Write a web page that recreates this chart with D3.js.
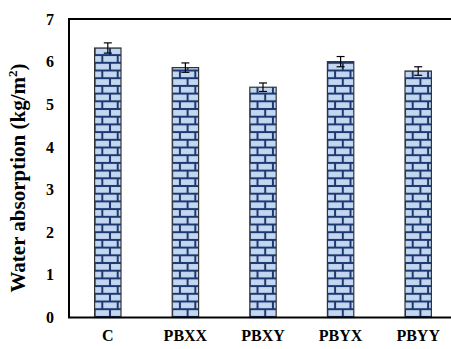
<!DOCTYPE html>
<html>
<head>
<meta charset="utf-8">
<script src="https://cdn.jsdelivr.net/npm/d3@7/dist/d3.min.js"></script>
<style>
  html, body { margin: 0; padding: 0; background: #fff; }
  svg { display: block; }
  text { font-family: "Liberation Serif", "Times New Roman", serif; font-weight: bold; fill: #000; }
</style>
</head>
<body>
<script>
// Water absorption per mix (kg/m²) with standard deviation
const categories = ["C", "PBXX", "PBXY", "PBYX", "PBYY"];
const absorption = [6.32, 5.86, 5.40, 6.00, 5.78];
const errors = [0.12, 0.11, 0.10, 0.12, 0.10];
const yTicks = [0, 1, 2, 3, 4, 5, 6, 7];

const W = 451, H = 349;
const margin = { left: 69, top: 19, bottom: 31.5 };
const plotRight = 457; // frame continues past the right edge of the canvas

const svg = d3.select("body").append("svg")
  .attr("width", W).attr("height", H);

const y = d3.scaleLinear().domain([0, 7]).range([H - margin.bottom, margin.top]);
const x = d3.scaleBand().domain(categories)
  .range([margin.left, plotRight])
  .paddingInner(0.66).paddingOuter(0.33);

// Horizontal brick fill
const brickH = 7.7, brickW = 15.4;
const defs = svg.append("defs");
categories.forEach((c, i) => {
  const p = defs.append("pattern")
    .attr("id", "brick" + i)
    .attr("patternUnits", "userSpaceOnUse")
    .attr("width", brickW).attr("height", brickH * 2)
    .attr("x", x(c)).attr("y", 1.2);
  p.append("rect").attr("width", brickW).attr("height", brickH * 2).attr("fill", "#c4d7f0");
  const ln = "#1c3870", sw = 2;
  p.append("line").attr("x1", 0).attr("x2", brickW).attr("y1", 0).attr("y2", 0)
    .attr("stroke", ln).attr("stroke-width", sw);
  p.append("line").attr("x1", 0).attr("x2", brickW).attr("y1", brickH).attr("y2", brickH)
    .attr("stroke", ln).attr("stroke-width", sw);
  p.append("line").attr("x1", 0).attr("x2", brickW).attr("y1", brickH * 2).attr("y2", brickH * 2)
    .attr("stroke", ln).attr("stroke-width", sw);
  p.append("line").attr("x1", 0).attr("x2", 0).attr("y1", 0).attr("y2", brickH)
    .attr("stroke", ln).attr("stroke-width", sw);
  p.append("line").attr("x1", brickW).attr("x2", brickW).attr("y1", 0).attr("y2", brickH)
    .attr("stroke", ln).attr("stroke-width", sw);
  p.append("line").attr("x1", brickW / 2).attr("x2", brickW / 2).attr("y1", brickH).attr("y2", brickH * 2)
    .attr("stroke", ln).attr("stroke-width", sw);
});

// Bars
svg.append("g").selectAll("rect")
  .data(categories)
  .join("rect")
  .attr("x", d => x(d))
  .attr("y", (d, i) => y(absorption[i]))
  .attr("width", x.bandwidth())
  .attr("height", (d, i) => y(0) - y(absorption[i]))
  .attr("fill", (d, i) => `url(#brick${i})`)
  .attr("stroke", "#333")
  .attr("stroke-width", 1.2);

// Error bars
const eb = svg.append("g").attr("stroke", "#000").attr("stroke-width", 1.2);
categories.forEach((c, i) => {
  const cx = x(c) + x.bandwidth() / 2;
  const hi = y(absorption[i] + errors[i]), lo = y(absorption[i] - errors[i]);
  eb.append("line").attr("x1", cx).attr("x2", cx).attr("y1", hi).attr("y2", lo);
  eb.append("line").attr("x1", cx - 4).attr("x2", cx + 4).attr("y1", hi).attr("y2", hi);
  eb.append("line").attr("x1", cx - 4).attr("x2", cx + 4).attr("y1", lo).attr("y2", lo);
});

// Frame
svg.append("rect")
  .attr("x", margin.left).attr("y", margin.top)
  .attr("width", plotRight - margin.left)
  .attr("height", y(0) - margin.top)
  .attr("fill", "none").attr("stroke", "#000").attr("stroke-width", 2);

// Y axis labels
const yAxis = svg.append("g")
  .attr("transform", `translate(${margin.left},0)`)
  .call(d3.axisLeft(y).tickValues(yTicks).tickFormat(d3.format("d")).tickSize(0).tickPadding(15));
yAxis.select(".domain").remove();
yAxis.selectAll("text").style("font-size", "16px").style("font-family", "Liberation Serif").style("font-weight", "bold");

// X axis labels
const xAxis = svg.append("g")
  .attr("transform", `translate(0,${y(0)})`)
  .call(d3.axisBottom(x).tickSize(0).tickPadding(12));
xAxis.select(".domain").remove();
xAxis.selectAll("text").style("font-size", "16px").style("font-family", "Liberation Serif").style("font-weight", "bold");

// Y axis title
const title = svg.append("text")
  .attr("transform", `translate(25,178) rotate(-90)`)
  .attr("text-anchor", "middle")
  .style("font-size", "21px");
title.append("tspan").text("Water absorption (kg/m");
title.append("tspan").text("2").attr("dy", -8).style("font-size", "13px");
title.append("tspan").text(")").attr("dy", 8);
</script>
</body>
</html>
